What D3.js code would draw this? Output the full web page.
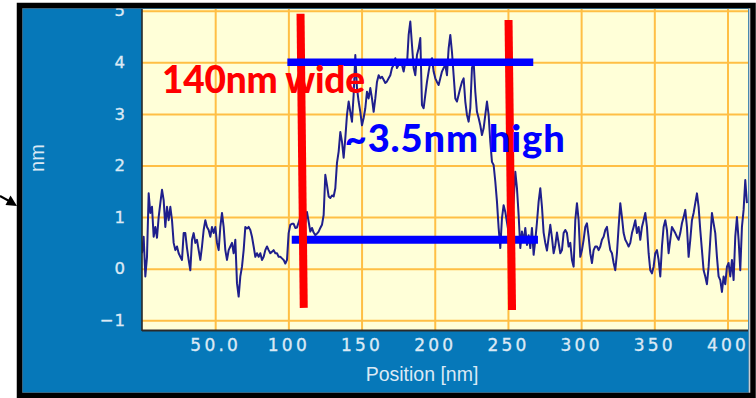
<!DOCTYPE html>
<html>
<head>
<meta charset="utf-8">
<script src="https://cdn.jsdelivr.net/npm/d3@7"></script>
<style>
  html, body { margin: 0; padding: 0; background: #ffffff; }
  svg { display: block; }
</style>
</head>
<body>
<svg id="chart" width="756" height="398"></svg>
<script>
// Line profile across the feature: height (nm) sampled every sampleStepNm along the scan
const sampleStepNm = 1.1385;
const heightNm = [
  0.30,
  0.62, -0.15, 0.23, 1.46, 1.08, 1.20, 0.62, 0.81, 0.60, 1.00,
  1.27, 1.53, 1.33, 0.81, 1.20, 0.94, 1.20, 0.94, 0.50, 0.36,
  0.43, 0.30, 0.23, 0.17, 0.69, 0.69, 0.40, 0.17, -0.03, 0.56,
  0.69, 0.50, 0.56, 0.36, 0.17, 0.43, 0.75, 0.94, 0.81, 0.75,
  0.62, 0.81, 0.69, 0.81, 0.50, 0.36, 0.81, 1.08, 0.81, 0.36,
  0.17, 0.36, 0.43, 0.50, 0.30, 0.56, -0.28, -0.54, -0.15, 0.04,
  0.36, 0.81, 0.78, 0.81, 0.75, 0.62, 0.43, 0.23, 0.30, 0.23,
  0.30, 0.17, 0.23, 0.36, 0.43, 0.36, 0.30, 0.33, 0.36, 0.30,
  0.30, 0.23, 0.23, 0.20, 0.17, 0.10, 0.17, 0.69,
  0.85, 0.87, 0.87, 0.79, 0.80, 0.90, 1.00, 0.95, 0.85, 0.90,
  1.10, 0.91, 0.72, 0.79, 0.70, 0.65, 0.68, 0.72, 0.79, 0.85,
  1.04, 1.82, 1.62, 1.40, 1.37, 1.42, 1.40, 1.56, 2.05, 2.27,
  2.65, 2.46, 2.15, 2.53, 2.98, 3.24, 3.04, 2.85, 3.37, 4.14,
  3.50, 3.24, 3.04, 2.78, 2.92, 3.11, 3.43, 3.30, 3.50, 3.30,
  3.04, 3.30, 3.62, 3.75, 3.69, 3.72, 3.66, 3.60, 3.63, 3.69,
  3.75, 3.89, 3.95, 4.08, 3.89, 3.95, 4.01, 3.95, 3.82, 4.00,
  3.95, 4.53, 4.79, 4.34, 3.89, 3.75, 4.14, 4.27, 4.47, 3.17,
  3.11, 3.37, 3.62, 3.82, 4.01, 4.08, 3.82, 3.69, 3.62, 3.56,
  3.69, 3.82, 3.89, 3.95, 3.75, 4.27, 4.53, 4.20, 3.75, 3.30,
  3.24, 3.37, 3.50, 3.62, 3.69, 3.24, 2.98, 2.85, 3.11, 3.89,
  4.01, 3.43, 3.04, 2.92, 2.78, 2.59, 2.72, 2.98, 3.24, 2.98,
  2.46, 2.07, 2.01, 1.69, 1.30, 0.79, 0.40, 0.98, 1.23, 1.10,
  0.90, 0.70, 0.60, 0.90, 1.30, 1.88, 1.56, 1.04, 0.40, 0.72,
  0.52, 0.79, 0.46, 0.65, 0.40, 0.79, 0.27,
  0.55, 0.90, 1.30, 1.56, 1.20, 0.70, 0.50, 0.35, 0.60, 0.85,
  0.60, 0.30, 0.45, 0.70, 0.50,
  0.30, 0.36, 0.69, 0.75, 0.69, 0.43, 0.50, 0.17, 0.04, 0.94,
  1.27, 0.94, 0.23, 0.36, 0.56, 0.81, 0.88, 0.62, 0.30, 0.11,
  0.36, 0.43, 0.43, 0.36, 0.43, 0.56, 0.62, 0.75, 0.81, 0.56,
  0.36, 0.30, 0.11, -0.03, 0.30, 0.81, 1.27, 1.00, 0.69, 0.56,
  0.50, 0.43, 0.50, 0.69, 0.81, 0.94, 0.69, 0.81, 0.56, 0.81,
  0.94, 1.08, 0.81, 0.30, -0.03, -0.09, 0.04, 0.30, 0.36, 0.17,
  -0.15, 0.43, 0.81, 0.94, 0.75, 0.30, 0.56, 0.81, 0.75, 0.69,
  0.62, 0.56, 0.69, 0.88, 1.00, 1.14, 0.81, 0.23, 0.56, 0.94,
  1.08, 1.27, 1.46, 1.20, 0.75, 0.36, -0.03, -0.15, -0.30, 0.04,
  0.56, 1.08, 0.88, 0.69, 0.23, -0.15, -0.22, -0.45, -0.15, -0.30,
  0.04, 0.11, -0.15, 0.17, -0.22, 0.62, 1.00, 0.56, -0.03, 0.81,
  1.14, 1.72, 1.27
];

const xDomain = [0, 414];
const yDomain = [-1.188, 5.033];
const xTickValues = [50, 100, 150, 200, 250, 300, 350, 400];
const xTickLabels = ["50.0", "100", "150", "200", "250", "300", "350", "400"];
const yTickValues = [-1, 0, 1, 2, 3, 4, 5];
const yTickLabels = ["\u22121", "0", "1", "2", "3", "4", "5"];
const xAxisTitle = "Position [nm]";
const yAxisTitle = "nm";

// Annotation overlay, in data units: edge markers [xTop, yTop, xBottom, yBottom]
const edgeMarkers = [[108.3, 4.94, 110.5, -0.76], [250.4, 4.82, 252.8, -0.80]];
// level markers [xStart, xEnd, height]
const levelMarkers = [[99.3, 267.3, 4.0], [102.3, 270.5, 0.56]];
const widthNote = "140nm wide";
const heightNote = "~3.5nm high";
const widthNoteAt = [13.7, 3.41];
const heightNoteAt = [138.5, 2.26];

const svg = d3.select("#chart");
const plot = { left: 142, top: 9, right: 748, bottom: 330 };

const x = d3.scaleLinear().domain(xDomain).range([plot.left, plot.right]);
const y = d3.scaleLinear().domain(yDomain).range([plot.bottom, plot.top]);

// instrument panel background
svg.append("rect")
  .attr("x", 22).attr("y", 8).attr("width", 727).attr("height", 385)
  .attr("fill", "#0678b9")
  .attr("stroke", "#8d9aa6").attr("stroke-width", 1);

// plotting area
svg.append("rect")
  .attr("x", plot.left).attr("y", plot.top)
  .attr("width", plot.right - plot.left).attr("height", plot.bottom - plot.top)
  .attr("fill", "#ffffd8");

svg.append("defs").append("clipPath").attr("id", "plotClip")
  .append("rect")
  .attr("x", plot.left).attr("y", plot.top)
  .attr("width", plot.right - plot.left).attr("height", plot.bottom - plot.top);

const gridColor = "#ffbf45";

// grid
const xAxisGrid = d3.axisBottom(x).tickValues(xTickValues)
  .tickSize(-(plot.bottom - plot.top)).tickFormat("");
svg.append("g")
  .attr("transform", `translate(0,${plot.bottom})`)
  .call(xAxisGrid)
  .call(g => g.select(".domain").remove())
  .call(g => g.selectAll("line").attr("stroke", gridColor).attr("stroke-width", 2));

const yAxisGrid = d3.axisLeft(y).tickValues(yTickValues)
  .tickSize(-(plot.right - plot.left)).tickFormat("");
svg.append("g")
  .attr("transform", `translate(${plot.left},0)`)
  .call(yAxisGrid)
  .call(g => g.select(".domain").remove())
  .call(g => g.selectAll("line").attr("stroke", gridColor).attr("stroke-width", 2));

// tick labels
const labelColor = "#dbe9f5";
const xAxisLabels = d3.axisBottom(x).tickValues(xTickValues).tickSize(0).tickPadding(9)
  .tickFormat((d, i) => xTickLabels[i]);
svg.append("g")
  .attr("transform", `translate(0,${plot.bottom})`)
  .call(xAxisLabels)
  .call(g => g.select(".domain").remove())
  .call(g => g.selectAll("text")
    .attr("fill", labelColor)
    .attr("stroke", labelColor).attr("stroke-width", 0.35)
    .attr("font-family", "DejaVu Sans, sans-serif")
    .attr("font-size", 17)
    .attr("letter-spacing", 3.2)
    .attr("dy", "0.68em"));

const yAxisLabels = d3.axisLeft(y).tickValues(yTickValues).tickSize(0).tickPadding(16)
  .tickFormat((d, i) => yTickLabels[i]);
svg.append("g")
  .attr("transform", `translate(${plot.left},0)`)
  .call(yAxisLabels)
  .call(g => g.select(".domain").remove())
  .call(g => g.selectAll("text")
    .attr("fill", labelColor)
    .attr("stroke", labelColor).attr("stroke-width", 0.35)
    .attr("font-family", "DejaVu Sans, sans-serif")
    .attr("font-size", 16.5)
    .attr("letter-spacing", 1));

// axis titles
svg.append("text")
  .attr("x", 422).attr("y", 381)
  .attr("text-anchor", "middle")
  .attr("fill", labelColor)
  .attr("font-family", "Liberation Sans, Arial, sans-serif")
  .attr("font-size", 19.5)
  .text(xAxisTitle);

svg.append("text")
  .attr("transform", "translate(44,158) rotate(-90)")
  .attr("text-anchor", "middle")
  .attr("fill", labelColor)
  .attr("font-family", "Liberation Sans, Arial, sans-serif")
  .attr("font-size", 20)
  .text(yAxisTitle);

// profile trace
const line = d3.line()
  .x((d, i) => x(i * sampleStepNm))
  .y(d => y(d));
svg.append("g").attr("clip-path", "url(#plotClip)")
  .append("path")
  .datum(heightNm)
  .attr("d", line)
  .attr("fill", "none")
  .attr("stroke", "#1f1f8c")
  .attr("stroke-width", 2)
  .attr("stroke-linejoin", "round");

// plot frame (left and bottom edges)
svg.append("line")
  .attr("x1", plot.left).attr("x2", plot.left)
  .attr("y1", plot.top).attr("y2", plot.bottom + 1)
  .attr("stroke", "#2a2a2a").attr("stroke-width", 1.6);
svg.append("line")
  .attr("x1", plot.left).attr("x2", plot.right)
  .attr("y1", plot.bottom + 0.5).attr("y2", plot.bottom + 0.5)
  .attr("stroke", "#2a2a2a").attr("stroke-width", 1.8);

// annotation overlay
const notes = svg.append("g");
notes.append("line")
  .datum(levelMarkers[1])
  .attr("x1", d => x(d[0])).attr("x2", d => x(d[1]))
  .attr("y1", d => y(d[2])).attr("y2", d => y(d[2]))
  .attr("stroke", "#0000ff").attr("stroke-width", 8);
notes.selectAll("line.edge")
  .data(edgeMarkers)
  .join("line")
  .attr("class", "edge")
  .attr("x1", d => x(d[0])).attr("y1", d => y(d[1]))
  .attr("x2", d => x(d[2])).attr("y2", d => y(d[3]))
  .attr("stroke", "#ff0000").attr("stroke-width", 8);
notes.append("line")
  .datum(levelMarkers[0])
  .attr("x1", d => x(d[0])).attr("x2", d => x(d[1]))
  .attr("y1", d => y(d[2])).attr("y2", d => y(d[2]))
  .attr("stroke", "#0000ff").attr("stroke-width", 7.5);

notes.append("text")
  .attr("x", x(widthNoteAt[0])).attr("y", y(widthNoteAt[1]))
  .attr("fill", "#ff0000")
  .attr("font-family", "Lato, sans-serif")
  .attr("font-weight", 900)
  .attr("font-size", 37)
  .attr("textLength", 203)
  .attr("lengthAdjust", "spacing")
  .text(widthNote);
notes.append("text")
  .attr("x", x(heightNoteAt[0])).attr("y", y(heightNoteAt[1]))
  .attr("fill", "#0000ff")
  .attr("font-family", "Lato, sans-serif")
  .attr("font-weight", 900)
  .attr("font-size", 38)
  .attr("textLength", 220)
  .attr("lengthAdjust", "spacing")
  .text(heightNote);

// outer black frame
svg.append("rect")
  .attr("x", 19.5).attr("y", 5.5).attr("width", 733.5).attr("height", 390)
  .attr("fill", "none")
  .attr("stroke", "#000000").attr("stroke-width", 5.5);

// pointer arrow at the left edge
const arrow = svg.append("g");
arrow.append("line")
  .attr("x1", 0).attr("y1", 196).attr("x2", 10).attr("y2", 201.5)
  .attr("stroke", "#000").attr("stroke-width", 2);
arrow.append("path")
  .attr("d", "M17,206 L5.5,205 L10.5,195.5 Z")
  .attr("fill", "#000");
</script>
</body>
</html>
